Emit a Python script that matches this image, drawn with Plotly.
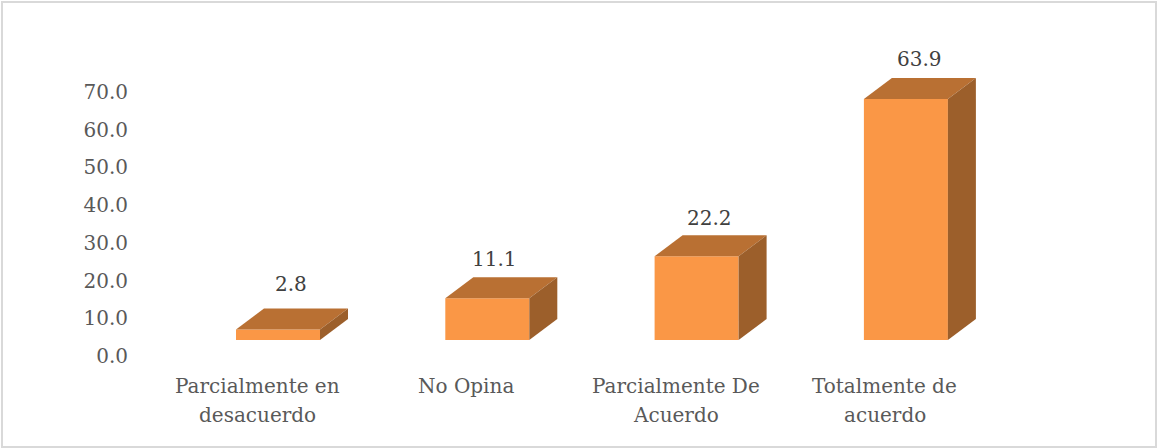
import plotly.graph_objects as go

categories = [["Parcialmente en", "desacuerdo"], ["No Opina"], ["Parcialmente De", "Acuerdo"], ["Totalmente de", "acuerdo"]]
values = [2.8, 11.1, 22.2, 63.9]
y_ticks = [0, 10, 20, 30, 40, 50, 60, 70]
label_dx = [13, 7, 13, 14]
label_lift = [24, 18, 17, 19]

FONT = "DejaVu Serif"
FRONT, TOP, SIDE = "#FA9746", "#B97033", "#9C5F2B"
PX_X, PX_Y = 209.3, 3.771
BAR_W = 84 / PX_X
DX, DY = 28 / PX_X, 21 / PX_Y
BASE = 16 / PX_Y

fig = go.Figure()
xs = list(range(len(values)))
fig.add_trace(go.Bar(x=xs, y=values, base=BASE, width=BAR_W, marker=dict(color=FRONT, line_width=0), hoverinfo="skip"))
for x, v in zip(xs, values):
    l, r, t, b = x - BAR_W / 2, x + BAR_W / 2, BASE + v, BASE
    fig.add_trace(go.Scatter(x=[l, r, r + DX, l + DX, l], y=[t, t, t + DY, t + DY, t], fill="toself",
                             fillcolor=TOP, mode="lines", line=dict(width=0), hoverinfo="skip"))
    fig.add_trace(go.Scatter(x=[r, r + DX, r + DX, r, r], y=[t, t + DY, b + DY, b, t], fill="toself",
                             fillcolor=SIDE, mode="lines", line=dict(width=0), hoverinfo="skip"))

annotations = []
for x, v, dx, lift in zip(xs, values, label_dx, label_lift):
    annotations.append(dict(x=x, y=BASE + v + DY, xref="x", yref="y", text=f"{v:.1f}", showarrow=False,
                            xshift=dx, yshift=lift, font=dict(family=FONT, size=20, color="#404040")))
for x, lines in zip(xs, categories):
    for i, line in enumerate(lines):
        annotations.append(dict(x=x - 21 / PX_X, y=0, xref="x", yref="y", text=line, showarrow=False,
                                yshift=-(30 + 29 * i), font=dict(family=FONT, size=20, color="#595959")))

fig.update_layout(
    width=1157, height=448, autosize=False, showlegend=False,
    paper_bgcolor="white", plot_bgcolor="white",
    margin=dict(l=137, r=117, t=20, b=92),
    font=dict(family=FONT, size=20, color="#595959"),
    xaxis=dict(range=[(137 - 278) / PX_X, (1040 - 278) / PX_X], showticklabels=False,
               showgrid=False, zeroline=False, showline=False, ticks=""),
    yaxis=dict(range=[0, 336 / PX_Y], tickmode="array", tickvals=y_ticks,
               ticktext=[f"{t:.1f}" for t in y_ticks], showgrid=False, zeroline=False,
               showline=False, ticks="", ticklabelstandoff=8),
    annotations=annotations,
    shapes=[dict(type="rect", xref="paper", yref="paper", x0=-135 / 903, x1=1019 / 903,
                 y0=-91 / 336, y1=1 + 18 / 336, line=dict(color="#D9D9D9", width=2), layer="below")],
)
fig.write_html("out.html", config=dict(displayModeBar=False), post_script="document.body.style.margin='0';")
